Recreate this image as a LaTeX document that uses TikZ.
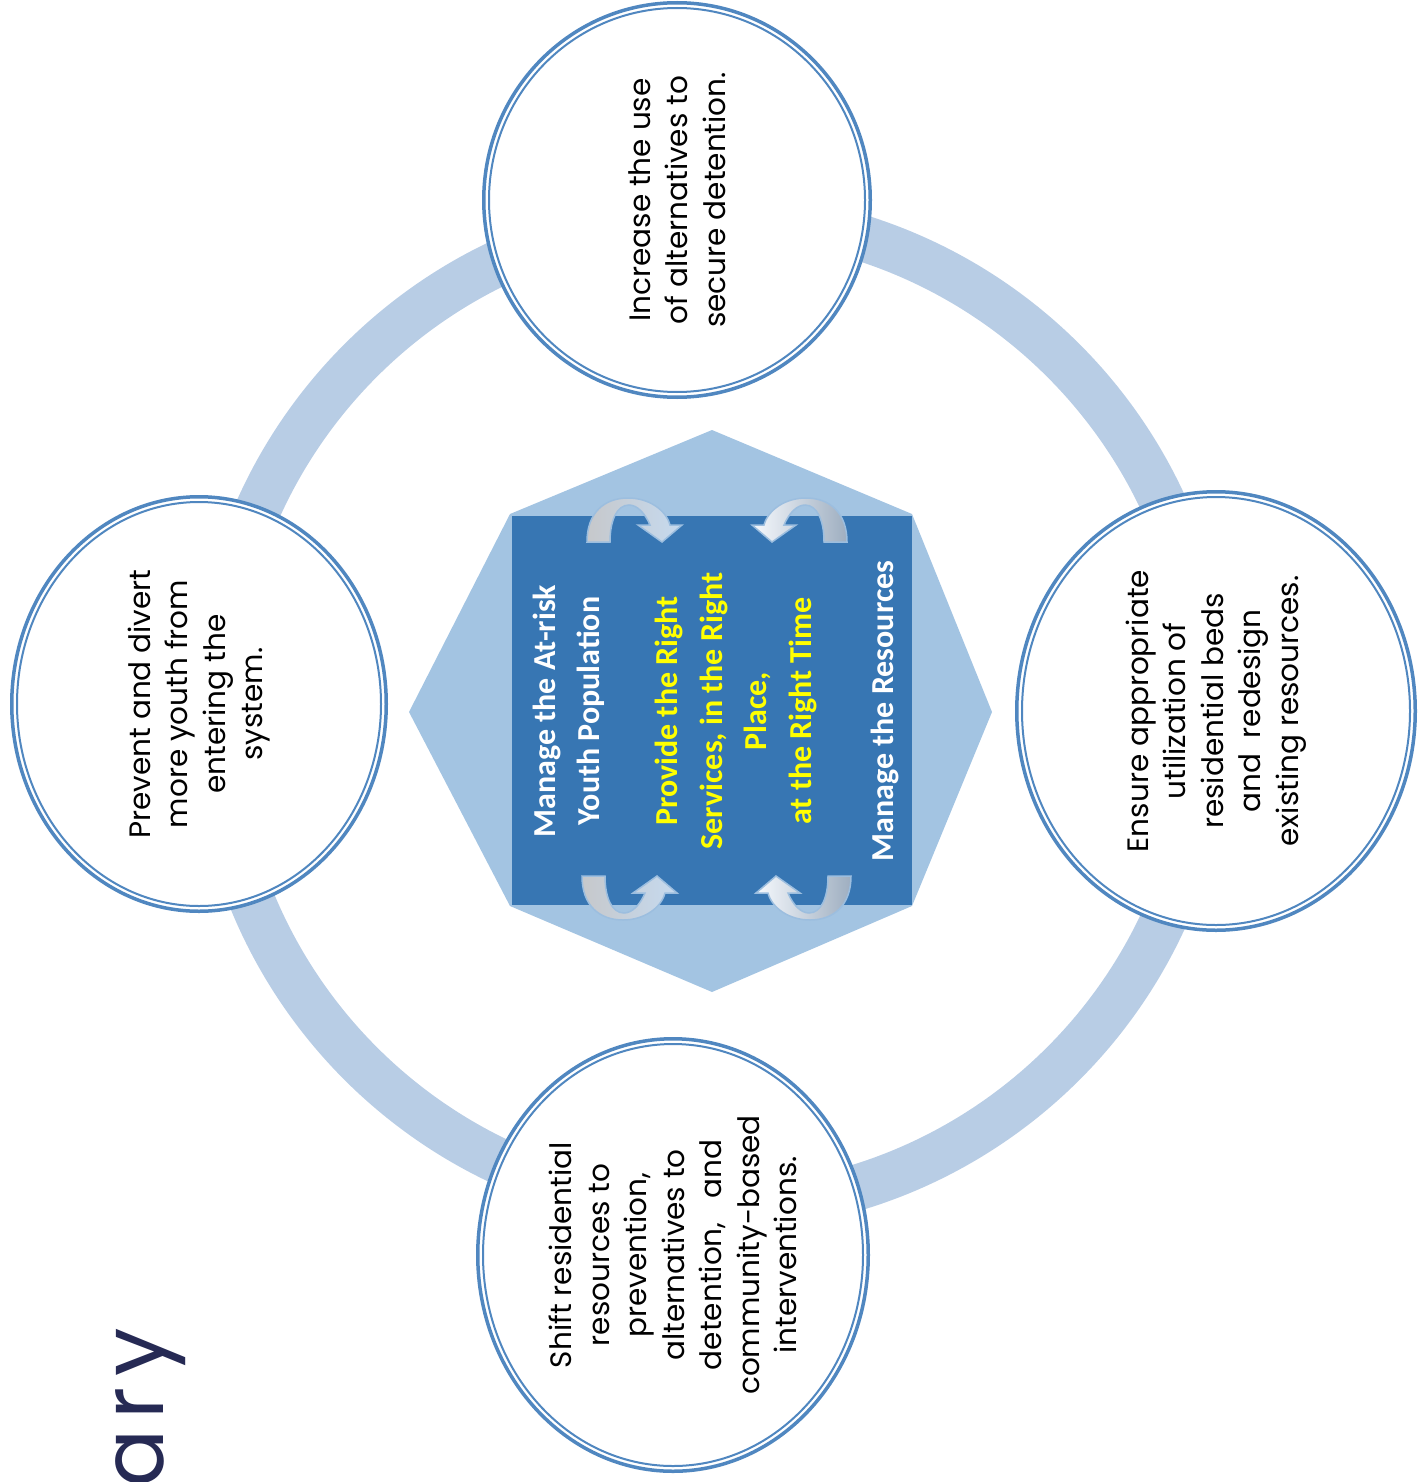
\documentclass[tikz,border=0pt]{standalone}
\usepackage{fontspec}
\setmainfont{Poppins}
\newfontfamily\boxfont{Carlito}
\newfontfamily\titlefont[LetterSpace=12]{Poppins}
\usetikzlibrary{shapes.geometric}

\definecolor{ringblue}{HTML}{B8CDE5}
\definecolor{rimblue}{HTML}{5087C0}
\definecolor{hexblue}{HTML}{A3C4E2}
\definecolor{boxblue}{HTML}{3776B3}
\definecolor{navy}{HTML}{262A54}
\definecolor{arrowedge}{HTML}{9CBEDF}
\definecolor{legsilver}{HTML}{C6C8CB}
\definecolor{legslate}{HTML}{9EAEC0}
\definecolor{headblue}{HTML}{C6DAEF}
\definecolor{headwhite}{HTML}{F6F9FD}
\definecolor{goldtext}{HTML}{FFFF00}

\tikzset{
  goal/.style={ellipse, draw=rimblue, line width=3.5pt, fill=white,
    inner sep=0pt, rotate=90, align=center, text=black,
    font=\fontsize{29.5}{37.5}\selectfont},
  goalrim/.style={draw=rimblue, line width=2pt},
  hub/.style={rotate=90, align=center, inner sep=0pt,
    font=\boxfont\bfseries\fontsize{32}{44.5}\selectfont},
  arrowbody/.style={draw=arrowedge, line width=1.5pt},
}

% U-turn arrow drawn in local pixel coordinates (leg foot at the origin)
\newcommand{\turnarrow}[3]{%
  \begin{scope}[#1]
  \path[arrowbody, left color=#2, right color=#3]
    (0,0) .. controls (0,-30) and (18,-44) .. (41,-44)
    .. controls (62,-44) and (79,-32) .. (83,-17)
    -- (95,-17) -- (75,0) -- (51,-17) -- (63,-17)
    .. controls (58,-29) and (50,-37) .. (42,-37)
    .. controls (30,-37) and (23,-22) .. (23,0) -- cycle;
  \end{scope}}

\begin{document}
\begin{tikzpicture}[x=1pt, y=-1pt]
\useasboundingbox (0,0) rectangle (1418,1482);
\clip (0,0) rectangle (1418,1482);

% outer cycle ring
\draw[ringblue, line width=46pt] (712,712) circle[radius=497pt];

% central octagon and square
\fill[hexblue] (712,430) -- (912,514) -- (992,712) -- (912,906)
  -- (712,992) -- (510,906) -- (409,712) -- (510,514) -- cycle;
\node[fill=boxblue, minimum width=400pt, minimum height=389pt, inner sep=0pt]
  (core) at (712,710.5) {};

% curved arrows between the columns
\turnarrow{shift={(587,542)}}{legsilver}{headblue}
\turnarrow{shift={(847,542)}, xscale=-1}{headwhite}{legslate}
\turnarrow{shift={(582,876)}, yscale=-1}{legsilver}{headblue}
\turnarrow{shift={(851,876)}, xscale=-1, yscale=-1}{headwhite}{legslate}

% hub texts
\node[hub, text=white] (youth) at (569,711)
  {Manage the At-risk\\Youth Population};
\node[hub, text=goldtext] (services) at (736,711)
  {Provide the Right\\Services, in the Right\\Place,\\at the Right Time};
\node[hub, text=white] (resources) at (885,711) {Manage the Resources};

% goal circles
\node[goal, minimum width=394.5pt, minimum height=386.5pt] (detain) at (677,200)
  {Increase the use\\of alternatives to\\secure detention.};
\draw[goalrim] (detain.center) ellipse[x radius=188pt, y radius=192pt];

\node[goal, minimum width=414.5pt, minimum height=374.5pt] (prevent) at (199,704)
  {Prevent and divert\\more youth from\\entering the\\system.};
\draw[goalrim] (prevent.center) ellipse[x radius=182pt, y radius=202pt];

\node[goal, minimum width=438.5pt, minimum height=398.5pt] (beds) at (1216,711)
  {Ensure appropriate\\utilization of\\residential beds\\and\ \ redesign\\existing resources.};
\draw[goalrim] (beds.center) ellipse[x radius=194pt, y radius=214pt];

\node[goal, minimum width=432.5pt, minimum height=390.5pt] (shift) at (673,1255)
  {Shift residential\\resources to\\prevention,\\alternatives to\\detention,\ \ \ and\\community-based\\interventions.};
\draw[goalrim] (shift.center) ellipse[x radius=190pt, y radius=211pt];

% title fragment at the lower left
\node[anchor=base east, rotate=90, inner sep=0pt, text=navy,
  font=\titlefont\fontsize{86}{86}\selectfont] (title) at (163,1328) {ary};
\end{tikzpicture}
\end{document}
